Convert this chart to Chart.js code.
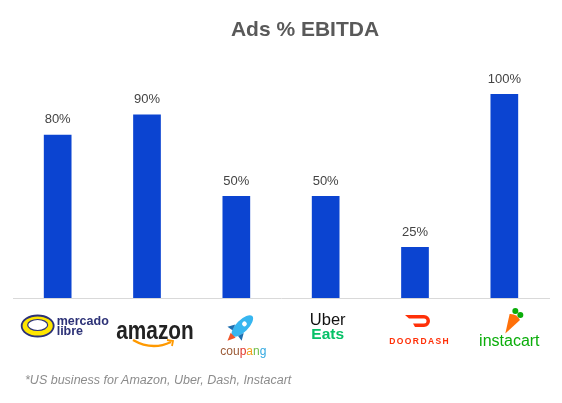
<!DOCTYPE html>
<html>
<head>
<meta charset="utf-8">
<script src="https://cdn.jsdelivr.net/npm/chart.js@4"></script>
<style>
  html, body { margin: 0; padding: 0; background: #fff; }
  #wrap { position: relative; width: 562px; height: 403px; }
  #title {
    position: absolute; left: 0; width: 610px; top: 17px;
    text-align: center; font: bold 21px "Liberation Sans", Arial, sans-serif; color: #595959;
  }
  #note {
    position: absolute; left: 25px; top: 373px;
    font: italic 12.5px "Liberation Sans", Arial, sans-serif; color: #8c8c8c;
  }
</style>
</head>
<body>
<div id="wrap">
  <canvas id="chart" width="562" height="403"></canvas>
  <div id="title">Ads % EBITDA</div>
  <div id="note">*US business for Amazon, Uber, Dash, Instacart</div>
</div>
<script>
/* ── Data ───────────────────────────────────────────── */
const categories = ["Mercado Libre", "Amazon", "Coupang", "Uber Eats", "DoorDash", "Instacart"];
const values     = [80, 90, 50, 50, 25, 100];
const valueLabels = ["80%", "90%", "50%", "50%", "25%", "100%"];
/* brand name text shown under each bar in place of the logos */
const brandLines = [["mercado", "libre"], ["amazon"], ["coupang"], ["Uber", "Eats"], ["DOORDASH"], ["instacart"]];

const BAR_BLUE = "#0b44d1";
const FONT = '"Liberation Sans", Arial, sans-serif';

/* ── Value labels above bars ────────────────────────── */
const valueLabelPlugin = {
  id: "valueLabels",
  afterDatasetsDraw(chart) {
    const ctx = chart.ctx;
    const meta = chart.getDatasetMeta(0);
    ctx.save();
    ctx.font = "13px " + FONT;
    ctx.fillStyle = "#444";
    ctx.textAlign = "center";
    ctx.textBaseline = "middle";
    meta.data.forEach((bar, i) => {
      ctx.fillText(valueLabels[i], bar.x, bar.y - 15);
    });
    ctx.restore();
  }
};

/* ── Brand "logos" drawn as coloured text ───────────── */
const brandPlugin = {
  id: "brands",
  afterDraw(chart) {
    const ctx = chart.ctx;
    const xs = chart.scales.x;
    const cx = (i) => xs.getPixelForValue(i);
    ctx.save();
    ctx.textBaseline = "alphabetic";

    /* mercado libre: yellow handshake oval + navy text */
    let x = cx(0);
    ctx.beginPath();
    ctx.ellipse(x - 20, 326, 16, 10.5, 0, 0, Math.PI * 2);
    ctx.fillStyle = "#ffe600"; ctx.fill();
    ctx.lineWidth = 1.8; ctx.strokeStyle = "#2d3277"; ctx.stroke();
    ctx.beginPath();
    ctx.ellipse(x - 20, 325, 10, 5.5, 0, 0, Math.PI * 2);
    ctx.fillStyle = "#fff"; ctx.fill();
    ctx.lineWidth = 1.2; ctx.stroke();
    ctx.fillStyle = "#2d3277";
    ctx.textAlign = "left";
    ctx.font = "bold 12.5px " + FONT;
    ctx.fillText(brandLines[0][0], x - 1, 325);
    ctx.fillText(brandLines[0][1], x - 1, 335);

    /* amazon: black wordmark + orange smile */
    x = cx(1) + 8;
    ctx.save();
    ctx.translate(x, 339);
    ctx.scale(0.8, 1);
    ctx.textAlign = "center";
    ctx.font = "bold 26px " + FONT;
    ctx.fillStyle = "#222";
    ctx.fillText(brandLines[1][0], 0, 0);
    ctx.restore();
    ctx.beginPath();
    ctx.moveTo(x - 22, 340);
    ctx.quadraticCurveTo(x - 3, 351, x + 16, 342);
    ctx.strokeStyle = "#f90"; ctx.lineWidth = 2.4; ctx.stroke();
    ctx.beginPath();
    ctx.moveTo(x + 12, 340); ctx.lineTo(x + 18, 341); ctx.lineTo(x + 17, 346);
    ctx.lineWidth = 1.8; ctx.stroke();

    /* coupang: rocket + multicoloured wordmark */
    x = cx(2) + 4;
    ctx.save();
    ctx.translate(x + 2, 326);
    ctx.rotate(Math.PI / 4);
    ctx.beginPath();
    ctx.ellipse(0, 0, 6, 14, 0, 0, Math.PI * 2);
    ctx.fillStyle = "#37b6f0"; ctx.fill();
    ctx.beginPath();
    ctx.moveTo(-6, 4); ctx.lineTo(-10, 11); ctx.lineTo(-4, 10); ctx.closePath();
    ctx.moveTo(6, 4); ctx.lineTo(10, 11); ctx.lineTo(4, 10); ctx.closePath();
    ctx.fillStyle = "#1f6fb0"; ctx.fill();
    ctx.beginPath();
    ctx.arc(0, -3, 2.4, 0, Math.PI * 2);
    ctx.fillStyle = "#fff"; ctx.fill();
    ctx.beginPath();
    ctx.moveTo(-3.5, 13); ctx.lineTo(0, 21); ctx.lineTo(3.5, 13);
    ctx.fillStyle = "#f0562a"; ctx.fill();
    ctx.restore();
    const coup = [["cou", "#9b5a36"], ["p", "#e2352b"], ["a", "#f0a020"], ["n", "#6cbd45"], ["g", "#31a8e0"]];
    ctx.font = "12px " + FONT;
    ctx.textAlign = "left";
    let tx = x - 20;
    coup.forEach(([s, c]) => {
      ctx.fillStyle = c;
      ctx.fillText(s, tx, 355);
      tx += ctx.measureText(s).width;
    });

    /* Uber Eats */
    x = cx(3) + 2;
    ctx.textAlign = "center";
    ctx.font = "16.5px " + FONT;
    ctx.fillStyle = "#111";
    ctx.fillText(brandLines[3][0], x, 325);
    ctx.font = "bold 15.5px " + FONT;
    ctx.fillStyle = "#06c167";
    ctx.fillText(brandLines[3][1], x, 339);

    /* DoorDash: red dash mark + wordmark */
    x = cx(4) + 4;
    ctx.beginPath();
    ctx.moveTo(x - 14, 315);
    ctx.lineTo(x + 5, 315);
    ctx.arc(x + 5, 321, 6, -Math.PI / 2, Math.PI / 2);
    ctx.lineTo(x - 4, 327);
    ctx.lineTo(x - 6, 323.5);
    ctx.lineTo(x + 5, 323.5);
    ctx.arc(x + 5, 321, 2.5, Math.PI / 2, -Math.PI / 2, true);
    ctx.lineTo(x - 10, 318.5);
    ctx.closePath();
    ctx.fillStyle = "#ff3008"; ctx.fill();
    ctx.font = "bold 8.5px " + FONT;
    ctx.fillStyle = "#ff3008";
    ctx.fillText(brandLines[4][0].split("").join(String.fromCharCode(8202, 8202)), x, 344);

    /* instacart: carrot + green wordmark */
    x = cx(5) + 5;
    ctx.save();
    ctx.translate(x + 2, 323);
    ctx.rotate(Math.PI / 6);
    ctx.beginPath();
    ctx.moveTo(-6, -7); ctx.quadraticCurveTo(0, -11, 6, -7); ctx.lineTo(0, 12); ctx.closePath();
    ctx.fillStyle = "#ff7009"; ctx.fill();
    ctx.restore();
    ctx.beginPath();
    ctx.arc(x + 6, 311, 3, 0, Math.PI * 2);
    ctx.arc(x + 11, 315, 3, 0, Math.PI * 2);
    ctx.fillStyle = "#0aad0a"; ctx.fill();
    ctx.font = "16px " + FONT;
    ctx.fillStyle = "#0aad0a";
    ctx.fillText(brandLines[5][0], x, 346);

    ctx.restore();
  }
};

/* ── Chart ──────────────────────────────────────────── */
new Chart(document.getElementById("chart"), {
  type: "bar",
  data: {
    labels: categories,
    datasets: [{
      data: values,
      backgroundColor: BAR_BLUE,
      barPercentage: 0.62,
      categoryPercentage: 0.5
    }]
  },
  options: {
    responsive: false,
    animation: false,
    layout: { padding: { top: 94, bottom: 97, left: 13, right: 13 } },
    plugins: { legend: { display: false }, tooltip: { enabled: false } },
    scales: {
      x: {
        grid: { display: false },
        border: { display: true, color: "#d9d9d9", width: 1 },
        ticks: { display: false }
      },
      y: { display: false, min: 0, max: 100 }
    }
  },
  plugins: [valueLabelPlugin, brandPlugin]
});
</script>
</body>
</html>
